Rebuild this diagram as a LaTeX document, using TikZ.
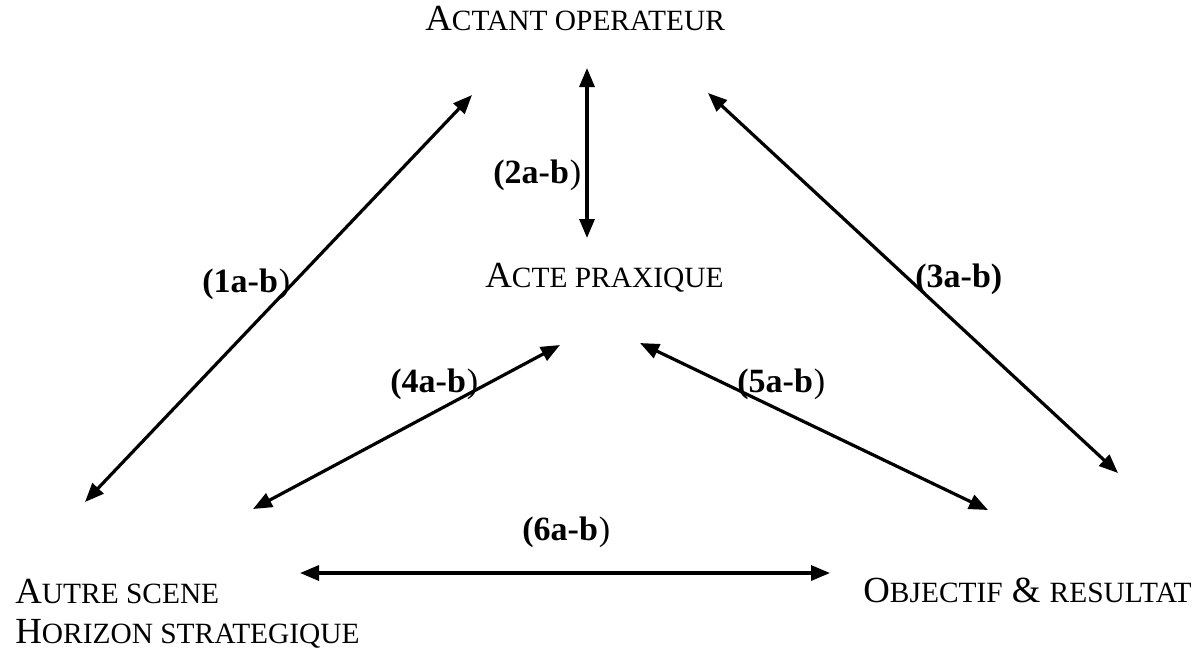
\documentclass[tikz,border=0pt]{standalone}
\usepackage{fontspec}
\setmainfont{Liberation Serif}
\usetikzlibrary{arrows.meta}
\newcommand\bigsz{\fontsize{17pt}{20pt}\selectfont}
\newcommand\capsz{\fontsize{18.4pt}{21pt}\selectfont}
\newcommand\sm[1]{{\fontsize{14.7pt}{17pt}\selectfont #1}}
\begin{document}
\begin{tikzpicture}[x=0.5pt,y=-0.5pt,
  lbl/.style={anchor=base west,inner sep=0pt,font=\bigsz},
  txt/.style={anchor=base west,inner sep=0pt,font=\capsz},
  conn/.style={line width=1.6pt,{Triangle[length=9.5pt,width=7.5pt]}-{Triangle[length=9.5pt,width=7.5pt]}}]
\useasboundingbox (0,0) rectangle (1203,650);
% texts
\node[txt] (actant) at (425,30) {A\sm{CTANT OPERATEUR}};
\node[txt] (acte) at (485,287) {A\sm{CTE PRAXIQUE}};
\node[txt] (autre) at (15,603) {A\sm{UTRE SCENE}};
\node[txt] (horizon) at (15,643) {H\sm{ORIZON STRATEGIQUE}};
\node[txt] (objectif) at (863,602) {O\sm{BJECTIF} \& \sm{RESULTAT}};
% labels
\node[lbl] (l1) at (202,292) {\textbf{(1a-b}\kern0.5pt)};
\node[lbl] (l2) at (493,183) {\textbf{(2a-b}\kern0.5pt)};
\node[lbl] (l3) at (915,287) {\textbf{(3a-b)}};
\node[lbl] (l4) at (390,392) {\textbf{(4a-b}\kern0.5pt)};
\node[lbl] (l5) at (737,392) {\textbf{(5a-b}\kern0.5pt)};
\node[lbl] (l6) at (522,540) {\textbf{(6a-b}\kern0.5pt)};
% arrow end points
\coordinate (a1s) at (85,502);  \coordinate (a1e) at (472,95);
\coordinate (a2s) at (587,68);  \coordinate (a2e) at (587,238);
\coordinate (a3s) at (708,93);  \coordinate (a3e) at (1118,473);
\coordinate (a4s) at (253,509); \coordinate (a4e) at (560,345);
\coordinate (a5s) at (640,343); \coordinate (a5e) at (988,510);
\coordinate (a6s) at (300,573); \coordinate (a6e) at (830,573);
\draw[conn] (a1s) -- (a1e);
\draw[conn] (a2s) -- (a2e);
\draw[conn] (a3s) -- (a3e);
\draw[conn] (a4s) -- (a4e);
\draw[conn] (a5s) -- (a5e);
\draw[conn] (a6s) -- (a6e);
\end{tikzpicture}
\end{document}
